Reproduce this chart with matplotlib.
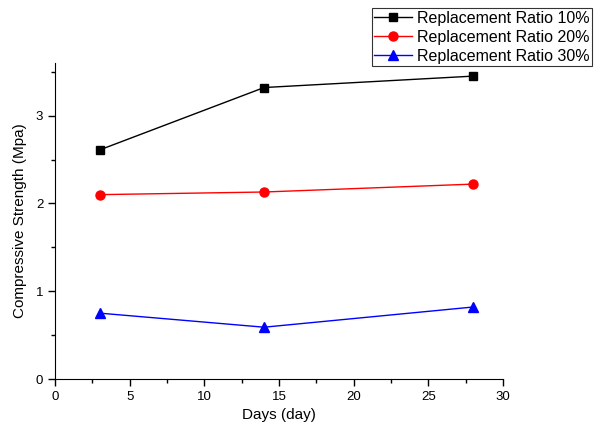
import matplotlib
matplotlib.use("Agg")
import matplotlib.pyplot as plt
from matplotlib.ticker import MultipleLocator

plt.rcParams['font.family'] = ['Liberation Sans', 'DejaVu Sans']

days = [3, 14, 28]
r10 = [2.61, 3.32, 3.45]
r20 = [2.10, 2.13, 2.22]
r30 = [0.75, 0.59, 0.82]
labels = ["Replacement Ratio 10%", "Replacement Ratio 20%", "Replacement Ratio 30%"]

fig = plt.figure(figsize=(6, 4.3), dpi=100)
ax = fig.add_axes([0.0917, 0.1186, 0.7466, 0.735])

ax.plot(days, r10, color='black', marker='s', markersize=6, lw=1, label=labels[0])
ax.plot(days, r20, color='red', marker='o', markersize=6.5, lw=1, label=labels[1])
ax.plot(days, r30, color='blue', marker='^', markersize=7, lw=1, label=labels[2])

ax.set_xlim(0, 30)
ax.set_ylim(0, 3.6)
ax.xaxis.set_major_locator(MultipleLocator(5))
ax.xaxis.set_minor_locator(MultipleLocator(2.5))
ax.yaxis.set_major_locator(MultipleLocator(1))
ax.yaxis.set_minor_locator(MultipleLocator(0.5))
ax.spines['top'].set_visible(False)
ax.spines['right'].set_visible(False)
ax.tick_params(which='major', direction='out', length=5, width=1, labelsize=9.5)
ax.tick_params(which='minor', direction='out', length=3, width=1)
ax.set_xlabel("Days (day)", fontsize=11, labelpad=4)
ax.set_ylabel("Compressive Strength (Mpa)", fontsize=11, labelpad=6)

leg = fig.legend(loc='upper right', bbox_to_anchor=(0.987, 0.981), fontsize=11.5,
                 frameon=True, fancybox=False, handlelength=2.4, borderpad=0.15,
                 labelspacing=0.26, handletextpad=0.3, borderaxespad=0)
leg.get_frame().set_edgecolor('black')
leg.get_frame().set_linewidth(0.8)

fig.savefig("out.png", dpi=100)
